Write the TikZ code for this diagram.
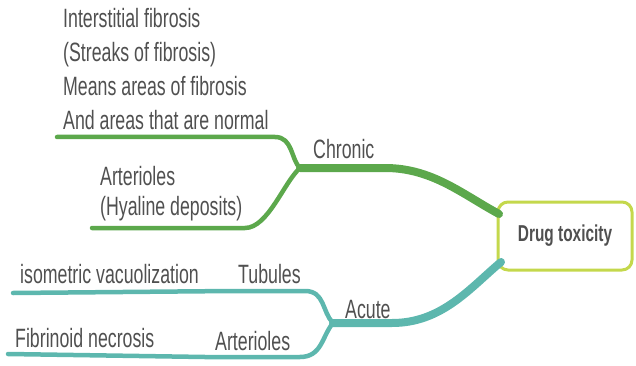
\documentclass[tikz,border=0pt]{standalone}
\usepackage{xcolor}
\usepackage{fontspec}
\usepackage{tikz}
\newfontfamily\mapfont[FakeStretch=0.67]{Liberation Sans}
\definecolor{chrgreen}{HTML}{5CA84C}
\definecolor{acuteteal}{HTML}{5DB7AE}
\definecolor{limeborder}{HTML}{C4D84C}
\definecolor{mapgray}{HTML}{505050}

\begin{document}
\begin{tikzpicture}[x=1pt, y=-1pt,
    maptext/.style={font=\mapfont\fontsize{26.5}{34}\selectfont, text=mapgray,
                    inner sep=0pt, anchor=base west, align=left},
    trunk/.style={line width=8pt, line cap=round},
    twig/.style={line width=4.5pt, line cap=round}]
  \useasboundingbox (0,0) rectangle (636,366);

  %% Central box
  \node[draw=limeborder, line width=3pt, fill=white, rounded corners=10pt,
        minimum width=134pt, minimum height=68pt, inner sep=0pt,
        font=\mapfont\bfseries\fontsize{23}{27}\selectfont, text=mapgray]
    (dt) at (565,236) {Drug toxicity};

  %% Branch points
  \coordinate (chrJ) at (300,168);
  \coordinate (chrIn) at (499,214);
  \coordinate (fibEnd) at (57,137);
  \coordinate (hyaEnd) at (92,228);
  \coordinate (acJ) at (333,323);
  \coordinate (acIn) at (501,262);
  \coordinate (tubEnd) at (13,293);
  \coordinate (artEnd) at (8,354);

  %% Chronic (green)
  \draw[chrgreen, trunk] (chrJ) -- (385,168) .. controls (432,168) and (462,194) .. (chrIn);
  \draw[chrgreen, twig] (chrJ) .. controls (291,160) and (293,137) .. (275,137) -- (fibEnd);
  \draw[chrgreen, twig] (chrJ) .. controls (284,182) and (268,228) .. (245,228) -- (hyaEnd);

  %% Acute (teal)
  \draw[acuteteal, trunk] (acJ) -- (392,323) .. controls (442,323) and (470,288) .. (acIn);
  \draw[acuteteal, twig] (acJ) .. controls (322,312) and (325,291) .. (305,291) -- (232,291) -- (tubEnd);
  \draw[acuteteal, twig] (acJ) .. controls (322,336) and (322,357) .. (300,357) -- (205,357) -- (artEnd);

  %% Labels (base = last line)
  \node[maptext] (fib) at (63,130) {Interstitial fibrosis\\(Streaks of fibrosis)\\Means areas of fibrosis\\And areas that are normal};
  \node[maptext] (chr) at (313,158) {Chronic};
  \node[maptext, font=\mapfont\fontsize{26.5}{30}\selectfont] (hya) at (100,215) {Arterioles\\(Hyaline deposits)};
  \node[maptext] (vac) at (20,283) {isometric vacuolization};
  \node[maptext] (tub) at (238,283) {Tubules};
  \node[maptext] (ac) at (345,318) {Acute};
  \node[maptext] (fibr) at (15,347) {Fibrinoid necrosis};
  \node[maptext] (art) at (215,350) {Arterioles};
\end{tikzpicture}
\end{document}
